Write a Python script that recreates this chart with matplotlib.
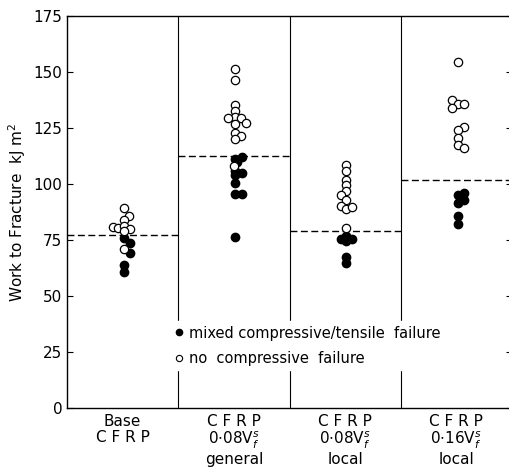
import numpy as np
import matplotlib.pyplot as plt

# groups along x
groups = ['Base\nC F R P',
          'C F R P\n0$\\cdot$08V$_f^s$\ngeneral',
          'C F R P\n0$\\cdot$08V$_f^s$\nlocal',
          'C F R P\n0$\\cdot$16V$_f^s$\nlocal']
means = [77.2, 112.6, 79.1, 101.8]

# work to fracture, kJ m^-2  (value, x-offset within column)
open_vals = [
    [89.1, 85.7, 83.9, 80.9, 80.2, 81.3, 80.0, 79.1, 70.8],
    [151.2, 146.4, 135.3, 132.6, 130.1, 129.6, 129.3, 127.4, 126.8, 122.9, 121.6, 119.9, 108.0],
    [108.5, 106.0, 102.0, 99.5, 97.0, 95.0, 93.0, 90.0, 89.0, 89.6, 80.5],
    [154.6, 137.5, 135.7, 135.7, 133.8, 125.6, 124.1, 120.7, 117.4, 115.9],
]
open_dx = [
    [0.0, 0.05, 0.0, -0.1, -0.05, 0.0, 0.06, 0.0, 0.0],
    [0.0, 0.0, 0.0, 0.0, 0.0, -0.06, 0.05, 0.1, 0.0, 0.0, 0.05, 0.0, -0.01],
    [0.0, 0.0, 0.0, 0.0, 0.0, -0.05, 0.0, -0.05, 0.0, 0.05, 0.0],
    [0.0, -0.05, 0.0, 0.06, -0.05, 0.06, 0.0, 0.0, 0.0, 0.06],
]
filled_vals = [
    [75.7, 73.8, 69.1, 63.8, 60.8],
    [111.0, 111.9, 110.0, 106.0, 105.0, 104.0, 100.3, 95.5, 95.5, 76.5],
    [77.0, 75.6, 75.6, 74.5, 67.3, 64.8],
    [96.0, 95.0, 92.9, 91.4, 85.6, 82.1],
]
filled_dx = [
    [0.0, 0.06, 0.06, 0.0, 0.0],
    [0.0, 0.06, 0.02, 0.0, 0.06, 0.0, 0.0, 0.0, 0.06, 0.0],
    [0.0, -0.05, 0.05, 0.0, 0.0, 0.0],
    [0.06, 0.0, 0.06, 0.0, 0.0, 0.0],
]

fig = plt.figure(figsize=(5.1, 4.73), dpi=100)
ax = fig.add_axes([0.1314, 0.1374, 0.8726, 0.8288])

for i in range(4):
    xc = i + 0.51
    ax.plot(xc + np.array(filled_dx[i]), filled_vals[i], 'o', color='black',
            ms=6, mec='black', zorder=3)
    ax.plot(xc + np.array(open_dx[i]), open_vals[i], 'o', color='white',
            ms=6, mec='black', mew=0.9, zorder=3)
    ax.plot([i, i + 1], [means[i], means[i]], '--', color='black', lw=1.0,
            dashes=(5, 2.5), zorder=2)
    if i > 0:
        ax.axvline(i, color='black', lw=0.8, zorder=1)

# legend entries
ax.plot([], [], 'o', color='black', ms=4.5, label='mixed compressive/tensile  failure')
ax.plot([], [], 'o', color='white', mec='black', mew=0.8, ms=4.5,
        label='no  compressive  failure')
leg = ax.legend(loc='upper left', bbox_to_anchor=(0.215, 0.24), frameon=True,
                fontsize=10.5, handlelength=0.6, handletextpad=0.4,
                labelspacing=0.7, borderpad=0.3)
leg.get_frame().set_facecolor('white')
leg.get_frame().set_edgecolor('white')
leg.get_frame().set_alpha(1)
leg.set_zorder(5)

ax.set_xlim(0, 4)
ax.set_ylim(0, 175)
ax.set_yticks(np.arange(0, 176, 25))
ax.set_xticks(np.arange(4) + 0.5)
ax.set_xticklabels(groups, fontsize=11, linespacing=1.1)
ax.tick_params(axis='x', length=0, pad=4)
ax.tick_params(axis='y', direction='in', length=4, right=True, labelsize=11)
ax.set_ylabel('Work to Fracture  kJ m$^2$', fontsize=11)
for s in ax.spines.values():
    s.set_linewidth(1.0)
ax.spines['right'].set_visible(False)

plt.savefig('out.png', dpi=100)
